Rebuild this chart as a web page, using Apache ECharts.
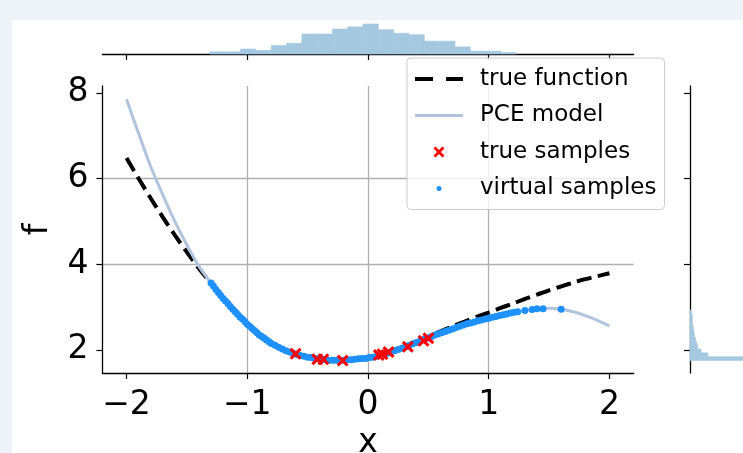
<!DOCTYPE html>
<html>
<head>
<meta charset="utf-8">
<script src="https://cdn.jsdelivr.net/npm/echarts@6/dist/echarts.min.js"></script>
<style>
html, body { margin: 0; padding: 0; width: 743px; height: 453px; overflow: hidden; background: #eef2f9; }
#chart { position: absolute; left: 12px; top: 20px; width: 731px; height: 433px; background: #fff; }
</style>
</head>
<body>
<div id="chart"></div>
<script>
var curveX = [-2.0, -1.9, -1.8, -1.7, -1.6, -1.5, -1.4, -1.3, -1.2, -1.1, -1.0, -0.9, -0.8, -0.7, -0.6, -0.5, -0.4, -0.3, -0.2, -0.1,
  0.0, 0.1, 0.2, 0.3, 0.4, 0.5, 0.6, 0.7, 0.8, 0.9, 1.0, 1.1, 1.2, 1.3, 1.4, 1.5, 1.6, 1.7, 1.8, 1.9, 2.0];
var trueF = [6.48, 6.00, 5.54, 5.10, 4.68, 4.28, 3.90, 3.55, 3.22, 2.91, 2.63, 2.37, 2.16, 2.01, 1.90, 1.83, 1.78, 1.76, 1.76, 1.78,
  1.82, 1.88, 1.97, 2.08, 2.19, 2.31, 2.43, 2.55, 2.66, 2.77, 2.87, 2.98, 3.08, 3.19, 3.29, 3.39, 3.48, 3.57, 3.65, 3.72, 3.79];
var pceF = [7.85, 7.05, 6.28, 5.62, 5.00, 4.45, 3.95, 3.56, 3.20, 2.89, 2.60, 2.35, 2.15, 2.00, 1.90, 1.83, 1.78, 1.76, 1.76, 1.78,
  1.81, 1.87, 1.96, 2.06, 2.17, 2.28, 2.39, 2.49, 2.59, 2.67, 2.74, 2.81, 2.87, 2.92, 2.96, 2.97, 2.95, 2.89, 2.80, 2.69, 2.56];

// true samples (red crosses)
var tsX = [-0.60, -0.42, -0.37, -0.21, 0.09, 0.12, 0.17, 0.33, 0.46, 0.50];
var tsY = [1.91, 1.78, 1.78, 1.75, 1.88, 1.90, 1.95, 2.07, 2.21, 2.27];

// virtual samples (blue dots)
var vsX = [-1.30, -1.28, -1.26, -1.24, -1.22, -1.20, -1.18, -1.16, -1.14, -1.12, -1.10, -1.08, -1.06, -1.04, -1.02, -1.00,
  -0.98, -0.96, -0.94, -0.92, -0.90, -0.88, -0.86, -0.84, -0.82, -0.80,
  -0.77, -0.74, -0.71, -0.68, -0.65, -0.62, -0.59, -0.56, -0.53, -0.50,
  -0.47, -0.44, -0.41, -0.38, -0.35, -0.32, -0.29, -0.26, -0.23, -0.20,
  -0.17, -0.14, -0.11, -0.08, -0.05, -0.02, 0.01, 0.04, 0.07, 0.10,
  0.13, 0.16, 0.19, 0.22, 0.25, 0.28, 0.31, 0.34, 0.37, 0.40,
  0.43, 0.46, 0.49, 0.52, 0.55, 0.58, 0.61, 0.64, 0.67, 0.70,
  0.73, 0.76, 0.79, 0.82, 0.85, 0.88, 0.91, 0.94, 0.97, 1.00,
  1.03, 1.06, 1.09, 1.12, 1.15, 1.18, 1.21, 1.24,
  1.30, 1.36, 1.40, 1.45, 1.60];
var vsY = [3.56, 3.49, 3.41, 3.34, 3.27, 3.20, 3.14, 3.08, 3.01, 2.95, 2.89, 2.83, 2.77, 2.72, 2.66, 2.60,
  2.55, 2.50, 2.45, 2.40, 2.35, 2.31, 2.27, 2.23, 2.19, 2.15,
  2.11, 2.06, 2.02, 1.98, 1.95, 1.92, 1.89, 1.87, 1.85, 1.83,
  1.82, 1.80, 1.79, 1.78, 1.77, 1.76, 1.76, 1.76, 1.76, 1.76,
  1.77, 1.77, 1.78, 1.79, 1.80, 1.80, 1.82, 1.83, 1.85, 1.87,
  1.90, 1.92, 1.95, 1.98, 2.01, 2.04, 2.07, 2.10, 2.14, 2.17,
  2.20, 2.24, 2.27, 2.30, 2.34, 2.37, 2.40, 2.43, 2.46, 2.49,
  2.52, 2.55, 2.58, 2.61, 2.63, 2.65, 2.68, 2.70, 2.72, 2.74,
  2.76, 2.78, 2.80, 2.82, 2.84, 2.86, 2.88, 2.89,
  2.92, 2.94, 2.96, 2.96, 2.95];

// marginal histogram of x (top)
var histXEdges = [-1.309, -1.182, -1.055, -0.929, -0.802, -0.675, -0.548, -0.421, -0.295, -0.168, -0.041,
  0.086, 0.213, 0.339, 0.466, 0.593, 0.720, 0.847, 0.973, 1.100, 1.227];
var histXCounts = [3, 3, 7, 5, 12, 15, 28, 28, 35, 38, 42, 34, 29, 27, 18, 18, 10, 4, 4, 2];

// marginal histogram of f (right)
var histFEdges = [1.75, 1.84, 1.93, 2.02, 2.11, 2.20, 2.29, 2.38, 2.47, 2.56, 2.65, 2.74, 2.84, 2.93];
var histFCounts = [150, 18, 11, 7.7, 6.7, 5.5, 4.5, 4, 3.3, 2.5, 2.3, 2.3, 1];

var xTicks = [-2, -1, 0, 1, 2];
var yTicks = [2, 4, 6, 8];

function zip(a, b) {
  var out = [];
  for (var i = 0; i < Math.min(a.length, b.length); i++) out.push([a[i], b[i]]);
  return out;
}
function bins(edges, counts) {
  var out = [];
  for (var i = 0; i < counts.length; i++) out.push([edges[i], edges[i + 1], counts[i]]);
  return out;
}

var FONT = 'DejaVu Sans';
var BIG = 33;
var HIST = '#a5c8e1';
var crossPath = 'path://M0,1.8L1.8,0L5,3.2L8.2,0L10,1.8L6.8,5L10,8.2L8.2,10L5,6.8L1.8,10L0,8.2L3.2,5Z';
var dotIcon = 'path://M0,0L0.01,0L0,0.01Z M11,11L10.99,11L11,10.99Z M5.5,3A2.5,2.5,0,1,1,5.5,8A2.5,2.5,0,1,1,5.5,3Z';

var axisLine = { show: true, onZero: false, lineStyle: { color: '#000', width: 1.3 } };
var gridLine = { show: true, showMinLine: false, showMaxLine: false, lineStyle: { color: '#b0b0b0', width: 1.3 } };
function minus(v) { return v < 0 ? '\u2212' + Math.abs(v) : String(v); }

var chart = echarts.init(document.getElementById('chart'));
chart.setOption({
  animation: false,
  backgroundColor: '#fff',
  grid: [
    { left: 90.4, right: 109.4, top: 66, bottom: 80, outerBoundsMode: 'none' },
    { left: 90.4, right: 109.4, top: 1, bottom: 399, outerBoundsMode: 'none' },
    { left: 678, width: 200, top: 66, bottom: 80, outerBoundsMode: 'none' }
  ],
  xAxis: [{
    gridIndex: 0, type: 'value', min: -2.2, max: 2.2, splitNumber: 4,
    axisLine: axisLine,
    axisTick: { show: true, customValues: xTicks, length: 6, lineStyle: { color: '#000', width: 1.2 } },
    axisLabel: { customValues: xTicks, formatter: minus, margin: 16, fontSize: BIG, fontFamily: FONT, color: '#000' },
    splitLine: gridLine,
    name: 'x', nameLocation: 'middle', nameGap: 52,
    nameTextStyle: { fontSize: BIG, fontFamily: FONT, color: '#000' }
  }, {
    gridIndex: 1, type: 'value', min: -2.2, max: 2.2, splitNumber: 4,
    axisLine: axisLine,
    axisTick: { show: true, customValues: xTicks, length: 6, lineStyle: { color: '#000', width: 1.2 } },
    axisLabel: { show: false },
    splitLine: { show: false }
  }, {
    gridIndex: 2, type: 'value', min: 0, max: 200, show: false
  }],
  yAxis: [{
    gridIndex: 0, type: 'value', min: 1.46, max: 8.16, splitNumber: 3,
    axisLine: axisLine,
    axisTick: { show: true, customValues: yTicks, length: 6, lineStyle: { color: '#000', width: 1.2 } },
    axisLabel: { customValues: yTicks, margin: 14, fontSize: BIG, fontFamily: FONT, color: '#000' },
    splitLine: gridLine,
    name: 'f', nameLocation: 'middle', nameGap: 47, nameRotate: 90,
    nameTextStyle: { fontSize: BIG, fontFamily: FONT, color: '#000' }
  }, {
    gridIndex: 1, type: 'value', min: 0, max: 46.2, show: false
  }, {
    gridIndex: 2, type: 'value', min: 1.46, max: 8.16, splitNumber: 3,
    axisLine: axisLine,
    axisTick: { show: true, customValues: yTicks, length: 6, lineStyle: { color: '#000', width: 1.2 } },
    axisLabel: { show: false },
    splitLine: { show: false }
  }],
  legend: {
    orient: 'vertical', left: 395, top: 38,
    padding: [8, 8, 8, 8],
    itemWidth: 48, itemHeight: 11, itemGap: 10.5,
    backgroundColor: 'rgba(255,255,255,0.8)', borderColor: '#cccccc', borderWidth: 1, borderRadius: 4,
    textStyle: { fontSize: 23, fontFamily: FONT, color: '#000', lineHeight: 26, padding: [0, 0, 0, 12] },
    data: [
      { name: 'true function', icon: 'path://M0,0H18V4H0Z M31,0H48V4H31Z' },
      { name: 'PCE model', icon: 'path://M0,0H48V3H0Z' },
      { name: 'true samples', icon: crossPath, itemStyle: { opacity: 1 } },
      { name: 'virtual samples', icon: dotIcon, itemStyle: { opacity: 1 } }
    ]
  },
  series: [{
    name: 'true function', type: 'line', xAxisIndex: 0, yAxisIndex: 0,
    data: zip(curveX, trueF), symbol: 'none', smooth: 0.3, color: '#000', z: 2,
    lineStyle: { color: '#000', width: 4, type: [15, 6.5], cap: 'butt' }
  }, {
    name: 'PCE model', type: 'line', xAxisIndex: 0, yAxisIndex: 0,
    data: zip(curveX, pceF), symbol: 'none', smooth: 0.3, color: '#b0c4de', z: 2,
    lineStyle: { color: '#b0c4de', width: 3 }
  }, {
    name: 'virtual samples', type: 'scatter', xAxisIndex: 0, yAxisIndex: 0,
    data: zip(vsX, vsY), symbol: 'circle', symbolSize: 7, color: '#1e90ff', z: 3,
    itemStyle: { color: '#1e90ff', opacity: 1 }
  }, {
    name: 'true samples', type: 'scatter', xAxisIndex: 0, yAxisIndex: 0,
    data: zip(tsX, tsY), symbol: crossPath, symbolSize: 12, color: '#ff0000', z: 4,
    itemStyle: { color: '#ff0000', opacity: 1 }
  }, {
    type: 'custom', xAxisIndex: 1, yAxisIndex: 1,
    data: bins(histXEdges, histXCounts),
    renderItem: function (params, api) {
      var p0 = api.coord([api.value(0), 0]);
      var p1 = api.coord([api.value(1), api.value(2)]);
      return { type: 'rect', shape: { x: p0[0], y: p1[1], width: p1[0] - p0[0], height: p0[1] - p1[1] },
        style: { fill: HIST, stroke: HIST, lineWidth: 0.6 } };
    }
  }, {
    type: 'custom', xAxisIndex: 2, yAxisIndex: 2,
    data: bins(histFEdges, histFCounts),
    renderItem: function (params, api) {
      var p0 = api.coord([0, api.value(0)]);
      var p1 = api.coord([api.value(2), api.value(1)]);
      return { type: 'rect', shape: { x: p0[0], y: p1[1], width: p1[0] - p0[0], height: p0[1] - p1[1] },
        style: { fill: HIST, stroke: HIST, lineWidth: 0.6 } };
    }
  }]
});
</script>
</body>
</html>
